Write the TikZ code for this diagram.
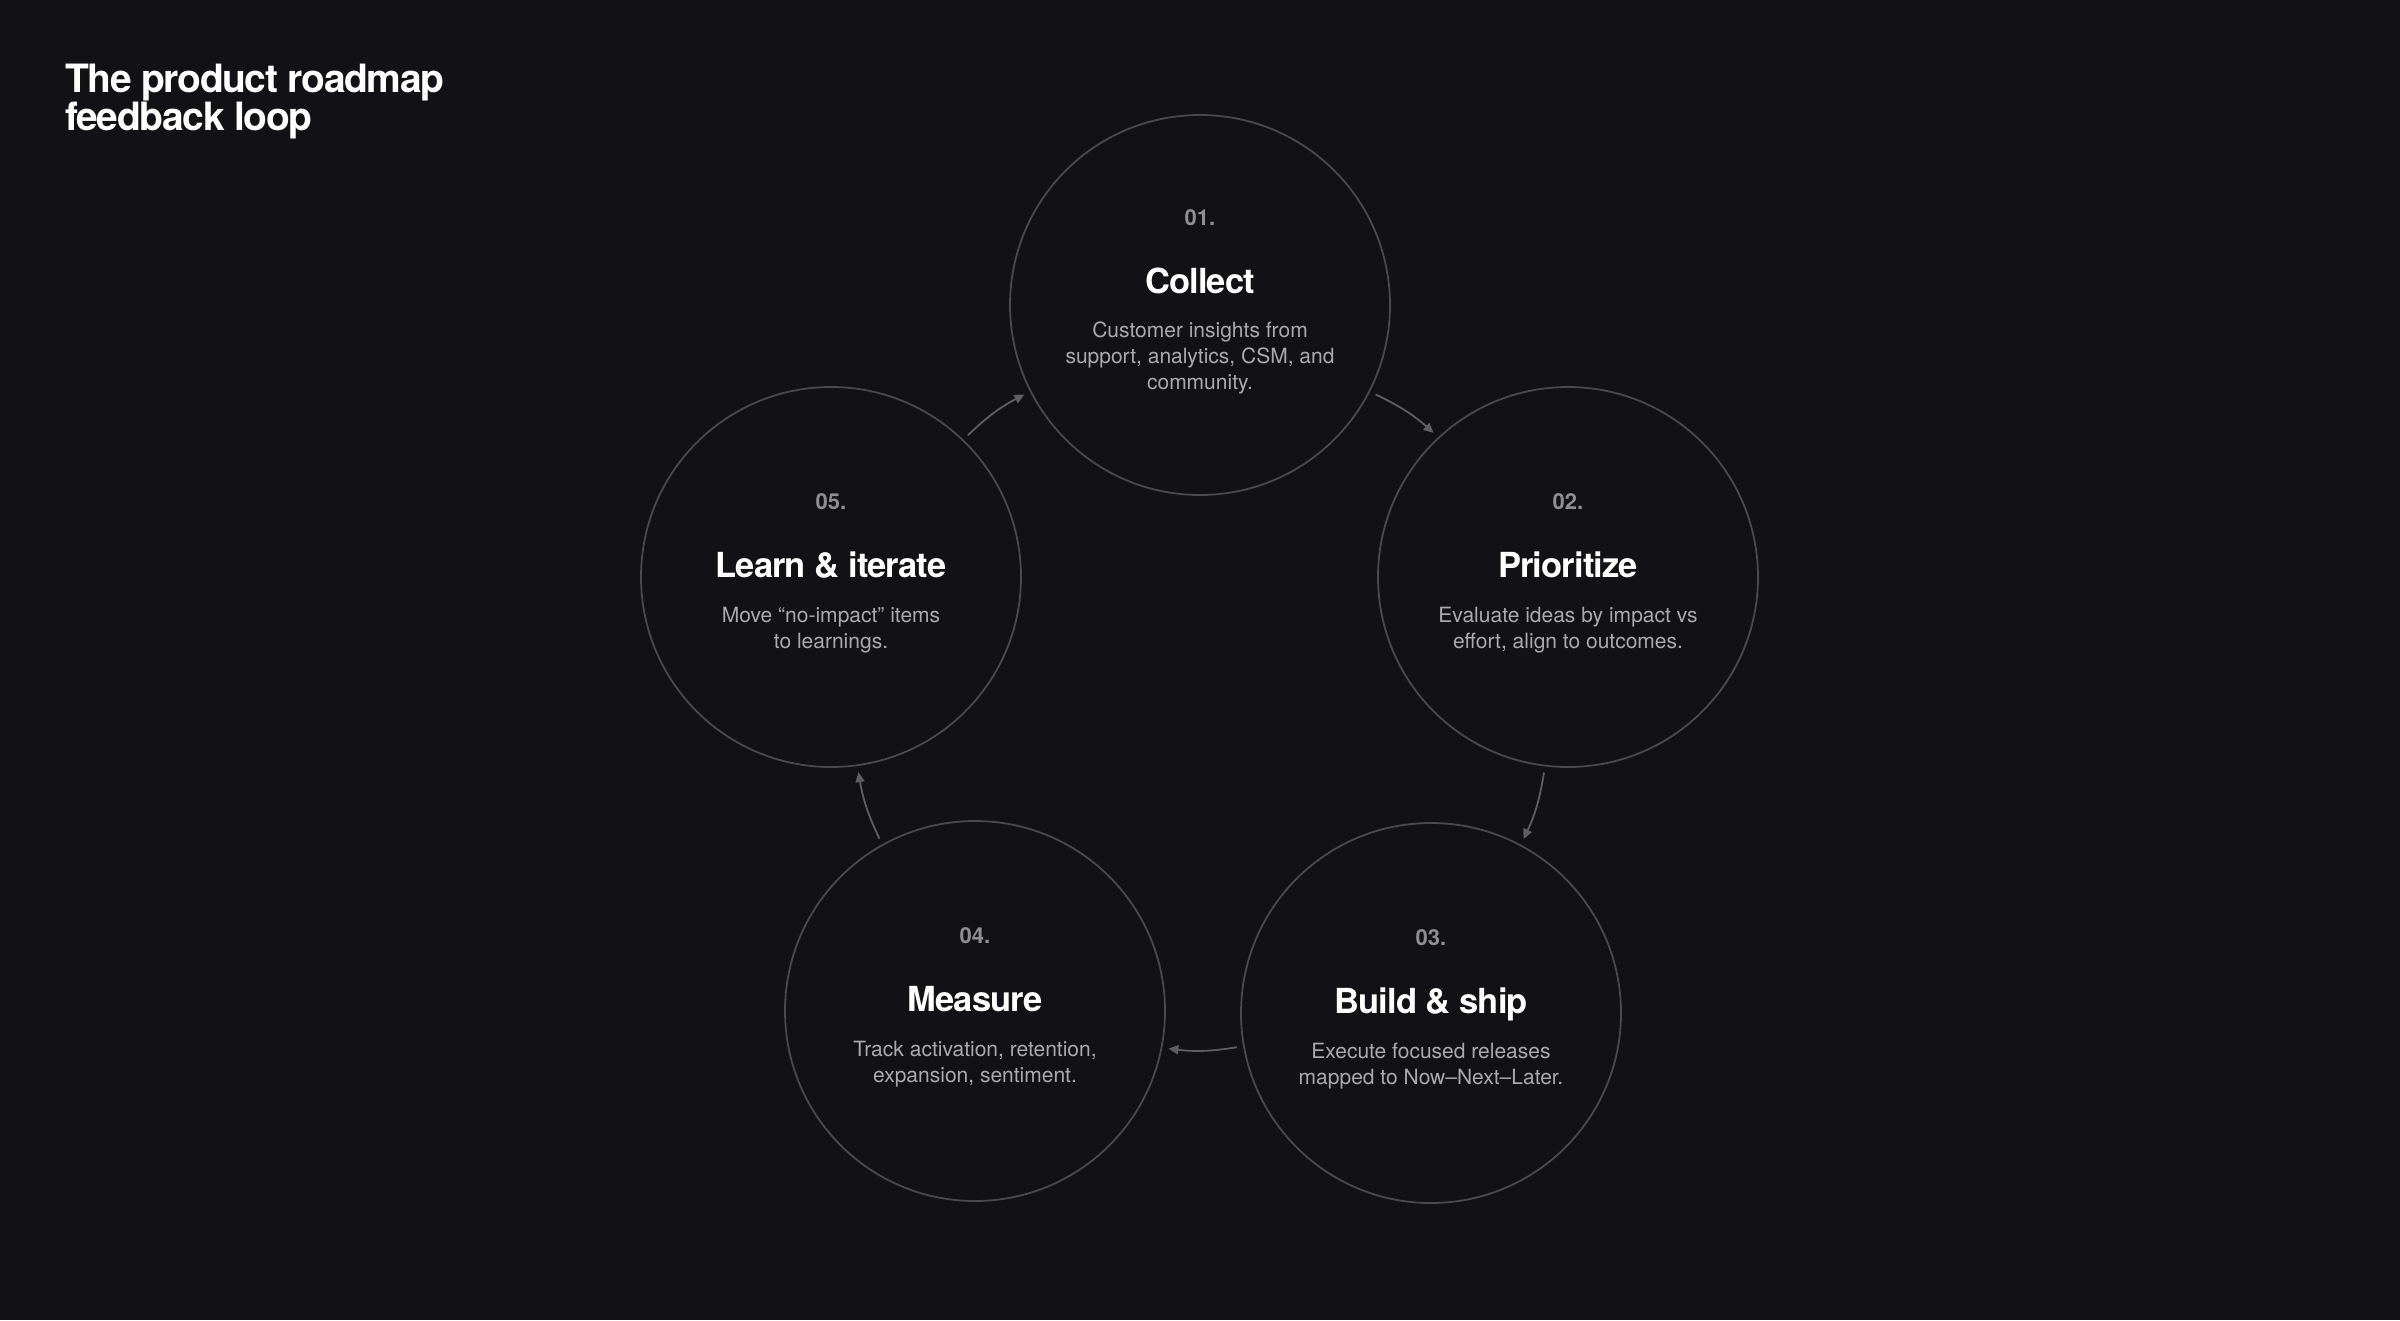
\documentclass[tikz,border=0pt]{standalone}
\usepackage{fontspec}
\setmainfont{TeX Gyre Heros}
\newfontfamily\headfam[LetterSpace=-3.5]{TeX Gyre Heros}
\newfontfamily\titlefam[LetterSpace=-2.5]{TeX Gyre Heros}
\usetikzlibrary{arrows.meta}
\definecolor{bg}{HTML}{121115}
\definecolor{ring}{HTML}{4A494E}
\definecolor{numgray}{HTML}{8E8E93}
\definecolor{bodygray}{HTML}{ABABAF}
\definecolor{arrowgray}{HTML}{5E5E63}
\begin{document}
\begin{tikzpicture}[x=1pt,y=-1pt,
  stage/.style={circle, draw=ring, line width=1.8pt, minimum size=380pt, inner sep=0pt, outer sep=7pt},
  stepnum/.style={anchor=base, inner sep=0pt, text=numgray, font=\fontsize{22}{26}\selectfont\bfseries},
  steptitle/.style={anchor=base, inner sep=0pt, text=white, font=\titlefam\fontsize{34.5}{40}\selectfont\bfseries},
  stepbody/.style={anchor=base, inner sep=0pt, text=bodygray, align=center, font=\fontsize{21}{26}\selectfont},
  flow/.style={draw=arrowgray, line width=1.8pt, -{Triangle[length=10pt,width=9pt]}, bend left=8},
]
\fill[bg] (0,0) rectangle (2400,1320);
\useasboundingbox (0,0) rectangle (2400,1320);

\node[anchor=base west, inner sep=0pt, align=left, text=white,
  font=\headfam\fontsize{39}{38}\selectfont\bfseries] (heading) at (65,130)
  {The product roadmap\\feedback loop};

\node[stage] (c1) at (1200,305) {};
\node[stage] (c2) at (1568,577) {};
\node[stage] (c3) at (1431,1013) {};
\node[stage] (c4) at (975,1011) {};
\node[stage] (c5) at (831,577) {};

\node[stepnum]   (n1) at ([yshift=80pt]c1.center) {01.};
\node[steptitle] (t1) at ([yshift=12pt]c1.center) {Collect};
\node[stepbody]  (b1) at ([yshift=-84pt]c1.center) {Customer insights from\\support, analytics, CSM, and\\community.};

\node[stepnum]   (n2) at ([yshift=68pt]c2.center) {02.};
\node[steptitle] (t2) at ([yshift=0pt]c2.center) {Prioritize};
\node[stepbody]  (b2) at ([yshift=-71pt]c2.center) {Evaluate ideas by impact vs\\effort, align to outcomes.};

\node[stepnum]   (n3) at ([yshift=68pt]c3.center) {03.};
\node[steptitle] (t3) at ([yshift=0pt]c3.center) {Build \& ship};
\node[stepbody]  (b3) at ([yshift=-71pt]c3.center) {Execute focused releases\\mapped to Now–Next–Later.};

\node[stepnum]   (n4) at ([yshift=68pt]c4.center) {04.};
\node[steptitle] (t4) at ([yshift=0pt]c4.center) {Measure};
\node[stepbody]  (b4) at ([yshift=-71pt]c4.center) {Track activation, retention,\\expansion, sentiment.};

\node[stepnum]   (n5) at ([yshift=68pt]c5.center) {05.};
\node[steptitle] (t5) at ([yshift=0pt]c5.center) {Learn \& iterate};
\node[stepbody]  (b5) at ([yshift=-71pt]c5.center) {Move “no-impact” items\\to learnings.};

\draw[flow] (c1.-27) to (c2.133);
\draw[flow] (c2.-97) to (c3.62);
\draw[flow] (c3.190) to (c4.-11);
\draw[flow] (c4.119) to (c5.-82);
\draw[flow] (c5.46) to (c1.207);
\end{tikzpicture}
\end{document}
